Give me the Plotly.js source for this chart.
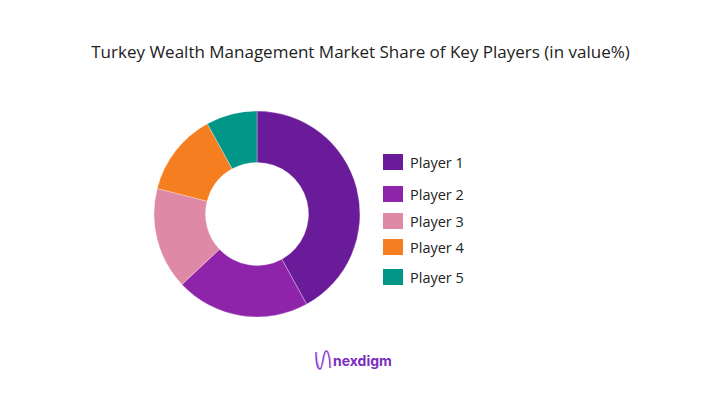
<!DOCTYPE html>
<html>
<head>
<meta charset="utf-8">
<script src="https://cdn.plot.ly/plotly-3.0.1.min.js"></script>
<style>html,body{margin:0;padding:0;background:#fff;}#chart{width:718px;height:412px;}</style>
</head>
<body>
<div id="chart"></div>
<script>
var labels = ["Player 1", "Player 2", "Player 3", "Player 4", "Player 5"];
var shares = [42, 21, 16, 13, 8];
var colors = ["#6A1B9A", "#8E24AA", "#DE89A5", "#F57F20", "#009688"];
var titleText = "Turkey Wealth Management Market Share of Key Players (in value%)";
var brandText = "nexdigm";

var W = 718, H = 412;
var cx = 257, cy = 214, R = 103;

var trace = {
  type: "pie",
  labels: labels,
  values: shares,
  sort: false,
  direction: "clockwise",
  rotation: 0,
  hole: 0.5,
  textinfo: "none",
  hoverinfo: "label+percent",
  marker: {colors: colors, line: {color: "#ffffff", width: 0.3}},
  domain: {x: [(cx - R) / W, (cx + R) / W], y: [(H - cy - R) / H, (H - cy + R) / H]},
  showlegend: false
};

// custom legend built from labels/colors
var legendY = [162, 194, 221, 247, 277];
var shapes = [], annotations = [];
labels.forEach(function (lab, i) {
  var y = legendY[i];
  shapes.push({type: "rect", xref: "paper", yref: "paper",
    x0: 383 / W, x1: 403 / W, y0: (H - y - 8) / H, y1: (H - y + 8) / H,
    fillcolor: colors[i], line: {width: 0}});
  annotations.push({xref: "paper", yref: "paper", x: 408 / W, y: (H - y) / H,
    xanchor: "left", yanchor: "middle", showarrow: false, text: lab,
    font: {family: "Open Sans, sans-serif", size: 14.5, color: "#222222"}});
});

// brand
annotations.push({xref: "paper", yref: "paper", x: 331 / W, y: (H - 360) / H,
  xanchor: "left", yanchor: "middle", showarrow: false, text: "<b>" + brandText + "</b>",
  font: {family: "Inter, Roboto, sans-serif", size: 14, color: "#7A2DC0"}});
shapes.push({type: "path", xref: "paper", yref: "paper", xsizemode: "pixel", ysizemode: "pixel",
  xanchor: 323 / W, yanchor: (H - 360) / H,
  path: "M -7,8 C -7,-4 -5,-9 -3,-9 C 0,-9 0,9 3,9 C 5,9 7,4 7,-8",
  line: {color: "#8E3BD0", width: 1.6}});
shapes.push({type: "path", xref: "paper", yref: "paper", xsizemode: "pixel", ysizemode: "pixel",
  xanchor: 323 / W, yanchor: (H - 360) / H,
  path: "M -6,8 C -6,-2 -4,-7 -2,-7 C 1,-7 1,8 4,8 C 6,8 8,2 8,-8",
  line: {color: "#C9A2EE", width: 0.8}});

var layout = {
  width: W, height: H,
  margin: {l: 0, r: 0, t: 0, b: 0},
  paper_bgcolor: "#ffffff",
  plot_bgcolor: "#ffffff",
  title: {text: titleText, x: (92 + 629) / 2 / W, xanchor: "center", y: (H - 52) / H, yanchor: "middle",
    font: {family: "Open Sans, sans-serif", size: 17, color: "#222222"}},
  shapes: shapes,
  annotations: annotations
};

Plotly.newPlot("chart", [trace], layout, {displayModeBar: false, staticPlot: true});
</script>
</body>
</html>
